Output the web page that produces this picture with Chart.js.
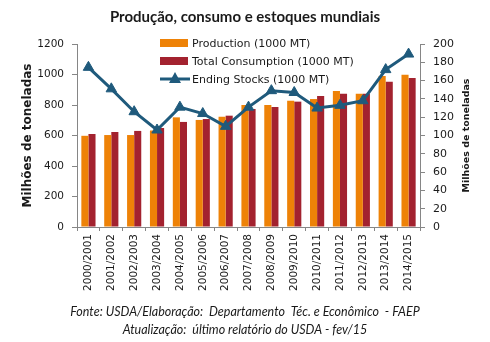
<!DOCTYPE html>
<html>
<head>
<meta charset="utf-8">
<script src="https://cdn.jsdelivr.net/npm/chart.js@4"></script>
<style>
  body { margin: 0; background: #fff; }
  canvas { display: block; }
</style>
</head>
<body>
<canvas id="chart" width="490" height="342"></canvas>
<script>
// valores (milhões de toneladas)
const seasons = ['2000/2001', '2001/2002', '2002/2003', '2003/2004', '2004/2005', '2005/2006', '2006/2007',
  '2007/2008', '2008/2009', '2009/2010', '2010/2011', '2011/2012', '2012/2013', '2013/2014', '2014/2015'];
const production = [598, 603, 603, 632, 719, 702, 723, 800, 800, 828, 839, 892, 874, 990, 999];
const consumption = [610, 623, 630, 649, 689, 708, 730, 774, 787, 822, 859, 874, 874, 953, 977];
const endingStocks = [174.5, 151, 126, 106, 131, 124, 110, 131, 149, 147, 130, 133, 138, 172, 189];
const leftTicks = [0, 200, 400, 600, 800, 1000, 1200];
const rightTicks = [0, 20, 40, 60, 80, 100, 120, 140, 160, 180, 200];

const axisColor = '#868686';
const textColor = '#1a1a1a';
const tickFont = { family: 'DejaVu Sans', size: 10.5 };

// legenda desenhada dentro da área do gráfico, como no original
const insideLegend = {
  id: 'insideLegend',
  afterDraw(chart) {
    const ctx = chart.ctx;
    const x = 160, y0 = 43, step = 18;
    ctx.save();
    ctx.font = '11px "DejaVu Sans"';
    ctx.textBaseline = 'middle';
    chart.data.datasets.forEach((ds, i) => {
      const y = y0 + i * step;
      if (ds.type === 'line') {
        ctx.strokeStyle = ds.borderColor;
        ctx.lineWidth = 3;
        ctx.beginPath();
        ctx.moveTo(x, y);
        ctx.lineTo(x + 30, y);
        ctx.stroke();
        ctx.fillStyle = ds.borderColor;
        ctx.beginPath();
        ctx.moveTo(x + 15, y - 7);
        ctx.lineTo(x + 21, y + 4);
        ctx.lineTo(x + 9, y + 4);
        ctx.closePath();
        ctx.fill();
      } else {
        ctx.fillStyle = ds.backgroundColor;
        ctx.fillRect(x, y - 4, 28, 8);
      }
      ctx.fillStyle = textColor;
      ctx.fillText(ds.label, x + 32, y + 1);
    });

    // título do eixo direito, lido de baixo para cima
    const right = chart.scales.y1;
    ctx.font = 'bold 9.5px "DejaVu Sans"';
    ctx.textAlign = 'center';
    ctx.translate(467, (right.top + right.bottom) / 2);
    ctx.rotate(-Math.PI / 2);
    ctx.fillText('Milhões de toneladas', 0, 0);
    ctx.restore();
  }
};

new Chart(document.getElementById('chart'), {
  data: {
    labels: seasons,
    datasets: [
      {
        type: 'bar',
        label: 'Production (1000 MT)',
        data: production,
        yAxisID: 'y',
        backgroundColor: '#EE8207',
        categoryPercentage: 0.62,
        barPercentage: 1,
        order: 1
      },
      {
        type: 'bar',
        label: 'Total Consumption (1000 MT)',
        data: consumption,
        yAxisID: 'y',
        backgroundColor: '#A3222F',
        categoryPercentage: 0.62,
        barPercentage: 1,
        order: 2
      },
      {
        type: 'line',
        label: 'Ending Stocks (1000 MT)',
        data: endingStocks,
        yAxisID: 'y1',
        borderColor: '#1F5A7C',
        backgroundColor: '#1F5A7C',
        borderWidth: 3,
        pointStyle: 'triangle',
        pointRadius: 6,
        pointBorderWidth: 1,
        tension: 0,
        order: 0
      }
    ]
  },
  options: {
    responsive: false,
    animation: false,
    layout: { padding: 0 },
    plugins: {
      legend: { display: false },
      tooltip: { enabled: false },
      title: {
        display: true,
        text: 'Produção, consumo e estoques mundiais',
        color: textColor,
        font: { family: 'Lato', size: 15, weight: 'bold', lineHeight: '18px' },
        padding: { top: 8, bottom: 18 }
      },
      subtitle: {
        display: true,
        position: 'bottom',
        text: ['Fonte: USDA/Elaboração:  Departamento  Téc. e Econômico  - FAEP',
               'Atualização:  último relatório do USDA - fev/15'],
        color: textColor,
        font: { family: 'Lato', size: 12.5, style: 'italic', lineHeight: '18px' },
        padding: { top: 0, bottom: 3 }
      }
    },
    scales: {
      x: {
        grid: { drawOnChartArea: false, color: axisColor, tickLength: 4, offset: true },
        border: { color: axisColor },
        ticks: { color: textColor, font: tickFont, minRotation: 90, maxRotation: 90, padding: 3, autoSkip: false },
        afterFit(scale) { scale.height = 76; }
      },
      y: {
        position: 'left',
        min: 0,
        max: 1200,
        grid: { drawOnChartArea: false, color: axisColor, tickLength: 5 },
        border: { color: axisColor },
        afterBuildTicks(scale) { scale.ticks = leftTicks.map(v => ({ value: v })); },
        ticks: { color: textColor, font: tickFont, padding: 8, callback: v => String(v) },
        title: {
          display: true,
          text: 'Milhões de toneladas',
          color: textColor,
          font: { family: 'DejaVu Sans', size: 12, weight: 'bold', lineHeight: 1.2 },
          padding: { top: 21, bottom: 0 }
        },
        afterFit(scale) { scale.width = 77; }
      },
      y1: {
        position: 'right',
        min: 0,
        max: 200,
        grid: { drawOnChartArea: false, color: axisColor, tickLength: 5 },
        border: { color: axisColor },
        afterBuildTicks(scale) { scale.ticks = rightTicks.map(v => ({ value: v })); },
        ticks: { color: textColor, font: { family: 'DejaVu Sans', size: 11 }, padding: 8, callback: v => String(v) },
        afterFit(scale) { scale.width = 70; }
      }
    }
  },
  plugins: [insideLegend]
});
</script>
</body>
</html>
